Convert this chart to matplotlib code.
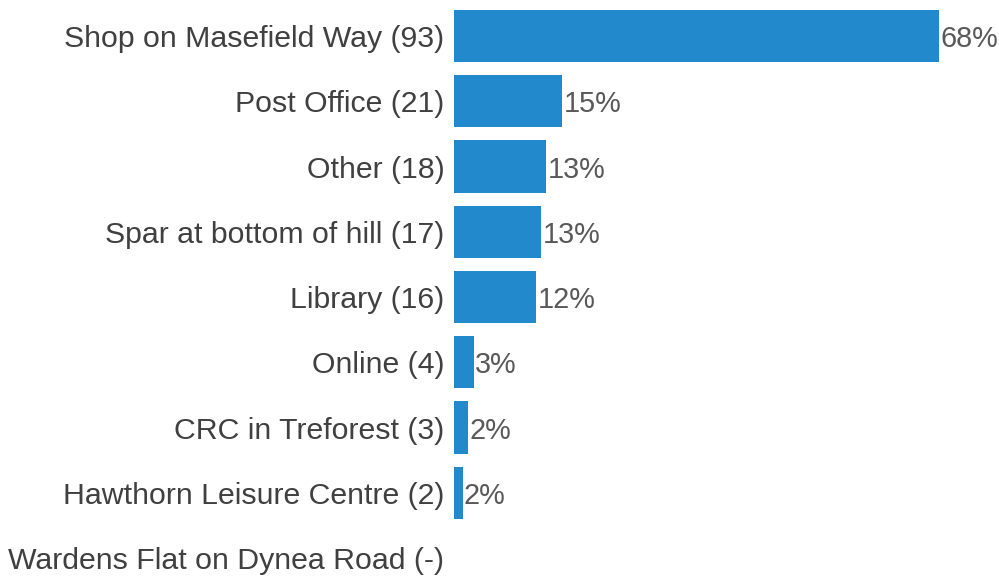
import matplotlib.pyplot as plt

# data
places = [
    "Shop on Masefield Way (93)",
    "Post Office (21)",
    "Other (18)",
    "Spar at bottom of hill (17)",
    "Library (16)",
    "Online (4)",
    "CRC in Treforest (3)",
    "Hawthorn Leisure Centre (2)",
    "Wardens Flat on Dynea Road (-)",
]
share = [68.0, 15.2, 12.9, 12.2, 11.5, 2.8, 2.0, 1.2, 0]
share_labels = ["68%", "15%", "13%", "13%", "12%", "3%", "2%", "2%", ""]

BAR = "#2389cd"
TXT = "#404040"
PCT = "#595959"

plt.rcParams["font.family"] = "sans-serif"
plt.rcParams["font.sans-serif"] = ["Liberation Sans", "DejaVu Sans"]

fig = plt.figure(figsize=(9.99, 5.79), dpi=100)
ax = fig.add_axes([454 / 999, 0, 545 / 999, 1])

ypos = list(range(len(places)))
ax.barh(ypos, share, height=0.8, color=BAR)

for y, v, lab in zip(ypos, share, share_labels):
    if lab:
        ax.annotate(lab, (v, y), xytext=(1, 0), textcoords="offset points",
                    va="center_baseline", ha="left", fontsize=20.8, color=PCT)

ax.set_yticks(ypos)
ax.set_yticklabels(places, fontsize=21.8, color=TXT, va="center_baseline")
ax.tick_params(axis="y", length=0, pad=7)
ax.set_xticks([])
ax.set_xlim(0, 545 / 7.13)
ax.set_ylim(8.32, -0.552)
for s in ax.spines.values():
    s.set_visible(False)

fig.savefig("out.png", dpi=100)
